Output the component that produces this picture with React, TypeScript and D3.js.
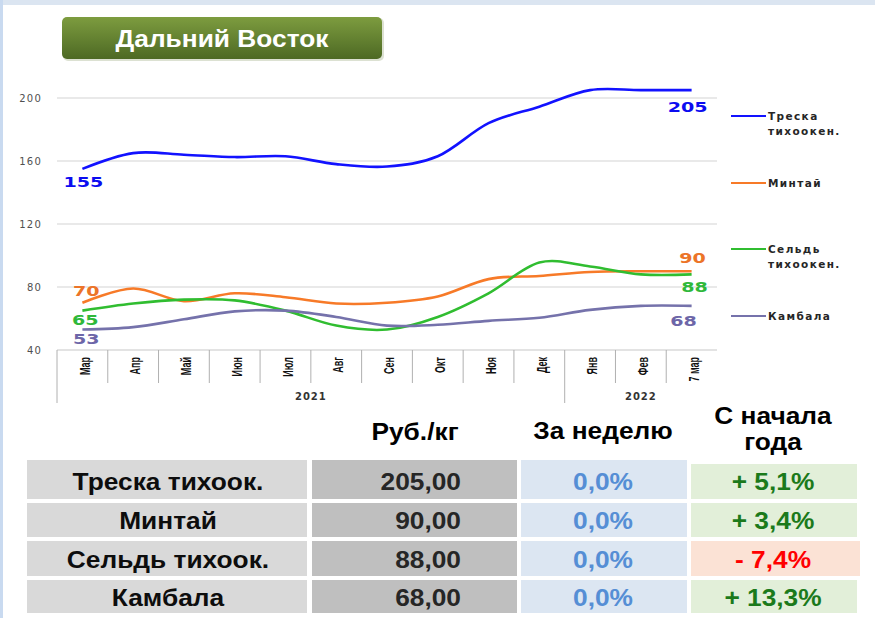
import React from 'react';
import * as d3 from 'd3';

const months = ['Мар', 'Апр', 'Май', 'Июн', 'Июл', 'Авг', 'Сен', 'Окт', 'Ноя', 'Дек', 'Янв', 'Фев', '7 мар'];
const yearLabels = ['2021', '2022'];
const yearSpans = [10, 3];
const yTicks = [40, 80, 120, 160, 200];

const seriesNames = ['Треска тихоокен.', 'Минтай', 'Сельдь тихоокен.', 'Камбала'];
const treska = [155, 165, 164, 162.5, 163, 158, 156.5, 163, 184, 194.5, 205, 205, 205];
const mintai = [70, 79, 71, 76, 73.5, 69.5, 70, 74, 85, 87, 89.5, 90, 90];
const seld = [65, 69.5, 72, 71.5, 65, 55.5, 53, 61, 76, 95.5, 93, 88, 88];
const kambala = [53, 54.5, 59.5, 64.5, 65, 61, 55.5, 56, 58.5, 60.5, 65.5, 68, 68];

const tableNames = ['Треска тихоок.', 'Минтай', 'Сельдь тихоок.', 'Камбала'];
const tablePrices = ['205,00', '90,00', '88,00', '68,00'];
const tableWeek = ['0,0%', '0,0%', '0,0%', '0,0%'];
const tableYear = ['+ 5,1%', '+ 3,4%', '- 7,4%', '+ 13,3%'];
const tableYearSign = [1, 1, -1, 1];
const headers = ['Руб./кг', 'За неделю'];

// styles (not data)
const seriesStyle = [
  { line: '#1212ff', label: '#0c0cf0', legend: ['Треска', 'тихоокен.'], first: [1, 13], last: [-4, 17] },
  { line: '#f77a28', label: '#ec7428', legend: ['Минтай'], first: [4, -12], last: [1, -13] },
  { line: '#30bd30', label: '#2fb83a', legend: ['Сельдь', 'тихоокен.'], first: [3, 10], last: [3, 13] },
  { line: '#7572ab', label: '#6d66a8', legend: ['Камбала'], first: [4, 10], last: [-8, 15] },
];
const legendY = [116, 183, 249, 316];

export default function App() {
  const data = [treska, mintai, seld, kambala];
  const xb = d3.scaleBand<string>().domain(months).range([57, 717]).padding(0);
  const xc = (i: number) => (xb(months[i]) as number) + xb.bandwidth() / 2;
  const y = d3.scaleLinear().domain([40, 200]).range([350, 98]);
  const line = d3
    .line<number>()
    .x((_, i) => xc(i))
    .y((d) => y(d))
    .curve(d3.curveCardinal.tension(0));

  const numFont = '"Liberation Sans", Arial, sans-serif';
  const verd = '"DejaVu Sans", Verdana, sans-serif';

  const yearBounds: number[] = [];
  let acc = 0;
  yearSpans.forEach((s) => {
    yearBounds.push(acc);
    acc += s;
  });

  const rowsY = [[460, 499], [503, 537], [541, 576], [580, 613]];
  const rowBase = [490, 529, 568, 606];

  const sx = (x: number, yy: number) => `translate(${x},${yy}) scale(1.12,1)`;
  const tfs = 23.5;

  return (
    <svg
      width={875}
      height={618}
      style={{ position: 'absolute', left: 0, top: 0, background: '#fff' }}
      xmlns="http://www.w3.org/2000/svg"
    >
      <defs>
        <linearGradient id="tg" x1="0" y1="0" x2="0" y2="1">
          <stop offset="0" stopColor="#7d9c3f" />
          <stop offset="1" stopColor="#4d6924" />
        </linearGradient>
      </defs>
      <rect x={0} y={0} width={875} height={5} fill="#dbe5f1" />
      <rect x={0} y={0} width={3} height={618} fill="#c9daf0" />

      {/* title */}
      <rect x={63} y={18} width={321} height={43} rx={5} fill="#b9c4a5" opacity={0.5} />
      <rect x={62} y={17} width={320} height={42} rx={5} fill="url(#tg)" />
      <text
        transform={sx(222, 47)}
        textAnchor="middle"
        fill="#fff"
        fontFamily={numFont}
        fontWeight="bold"
        fontSize={23.5}
      >
        Дальний Восток
      </text>

      {/* gridlines and y labels */}
      {yTicks.map((t) => (
        <g key={t}>
          {t > 40 && <line x1={57} x2={717} y1={y(t)} y2={y(t)} stroke="#d4d4d4" strokeWidth={1.2} />}
          <text
            x={42}
            y={y(t)}
            dy="0.35em"
            textAnchor="end"
            fontFamily={verd}
            fontSize={10}
            letterSpacing={1.2}
            fill="#505050"
          >
            {t}
          </text>
        </g>
      ))}

      {/* category axis */}
      <line x1={57} x2={717} y1={350} y2={350} stroke="#c8c8c8" strokeWidth={1.2} />
      {months.map((m, i) => {
        const x0 = xb(m) as number;
        const isYearStart = yearBounds.includes(i);
        return (
          <g key={m}>
            <line x1={x0} x2={x0} y1={350} y2={isYearStart ? 403 : 383} stroke="#b0b0b0" strokeWidth={1} />
            <text
              transform={`translate(${xc(i) + 2},357) rotate(-90) scale(0.6,1)`}
              textAnchor="end"
              dy="0.35em"
              fontFamily={numFont}
              fontWeight="bold"
              fontSize={15}
              fill="#111"
            >
              {m}
            </text>
          </g>
        );
      })}
      {yearLabels.map((yl, k) => {
        const s = yearBounds[k];
        const e = s + yearSpans[k];
        const x0 = xb(months[s]) as number;
        const x1 = e >= months.length ? 717 : (xb(months[e]) as number);
        return (
          <text
            key={yl}
            x={(x0 + x1) / 2}
            y={400}
            textAnchor="middle"
            fontFamily={verd}
            fontWeight="bold"
            fontSize={10}
            letterSpacing={1}
            fill="#333"
          >
            {yl}
          </text>
        );
      })}

      {/* lines */}
      {data.map((d, k) => (
        <path key={k} d={line(d) as string} fill="none" stroke={seriesStyle[k].line} strokeWidth={2.6} />
      ))}

      {/* data labels */}
      {data.map((d, k) => {
        const st = seriesStyle[k];
        const first = d[0];
        const last = d[d.length - 1];
        const n = d.length - 1;
        const lab = (v: number, xx: number, yy: number, key: string) => {
          const s = String(v);
          return (
            <text
              key={key}
              x={xx}
              y={yy}
              dy="0.36em"
              textAnchor="middle"
              fontFamily={verd}
              fontWeight="bold"
              fontSize={13.5}
              fill={st.label}
              textLength={s.length * 13.3}
              lengthAdjust="spacingAndGlyphs"
            >
              {s}
            </text>
          );
        };
        return (
          <g key={k}>
            {lab(first, xc(0) + st.first[0], y(first) + st.first[1], 'f')}
            {lab(last, xc(n) + st.last[0], y(last) + st.last[1], 'l')}
          </g>
        );
      })}

      {/* legend */}
      {seriesNames.map((nm, k) => {
        const st = seriesStyle[k];
        const ly = legendY[k];
        return (
          <g key={nm}>
            <line x1={731} x2={766} y1={ly} y2={ly} stroke={st.line} strokeWidth={2.2} />
            {st.legend.map((ln, j) => (
              <text
                key={j}
                x={768}
                y={ly + 4 + j * 14.5}
                fontFamily={verd}
                fontWeight="bold"
                fontSize={10.5}
                letterSpacing={1.4}
                fill="#262626"
              >
                {ln}
              </text>
            ))}
          </g>
        );
      })}

      {/* table headers */}
      <text transform={sx(415, 440)} textAnchor="middle" fontFamily={numFont} fontWeight="bold" fontSize={tfs} fill="#000">
        {headers[0]}
      </text>
      <text transform={sx(603, 439)} textAnchor="middle" fontFamily={numFont} fontWeight="bold" fontSize={tfs} fill="#000">
        {headers[1]}
      </text>
      <text transform={sx(773, 424)} textAnchor="middle" fontFamily={numFont} fontWeight="bold" fontSize={tfs} fill="#000">
        С начала
      </text>
      <text transform={sx(773, 450)} textAnchor="middle" fontFamily={numFont} fontWeight="bold" fontSize={tfs} fill="#000">
        года
      </text>

      {/* table rows */}
      {tableNames.map((nm, r) => {
        const [t, b] = rowsY[r];
        const base = rowBase[r];
        const up = tableYearSign[r] > 0;
        return (
          <g key={nm}>
            <rect x={27} y={t} width={280} height={b - t} fill="#d9d9d9" />
            <rect x={312} y={t} width={205} height={b - t} fill="#bfbfbf" />
            <rect x={521} y={t} width={166} height={b - t} fill="#dce6f2" />
            <rect
              x={691}
              y={r === 0 ? t + 4 : t}
              width={r === 2 ? 169 : 166}
              height={r === 0 ? b - t - 4 : b - t}
              fill={up ? '#e2efd9' : '#fbe2d5'}
            />
            <text transform={sx(168, base)} textAnchor="middle" fontFamily={numFont} fontWeight="bold" fontSize={tfs} fill="#0d0d0d">
              {nm}
            </text>
            <text transform={sx(461, base)} textAnchor="end" fontFamily={numFont} fontWeight="bold" fontSize={tfs} fill="#262626">
              {tablePrices[r]}
            </text>
            <text transform={sx(603, base)} textAnchor="middle" fontFamily={numFont} fontWeight="bold" fontSize={tfs} fill="#558ed5">
              {tableWeek[r]}
            </text>
            <text
              transform={sx(773, base)}
              textAnchor="middle"
              fontFamily={numFont}
              fontWeight="bold"
              fontSize={tfs}
              fill={up ? '#1b7a1b' : '#ff0000'}
            >
              {tableYear[r]}
            </text>
          </g>
        );
      })}
    </svg>
  );
}
